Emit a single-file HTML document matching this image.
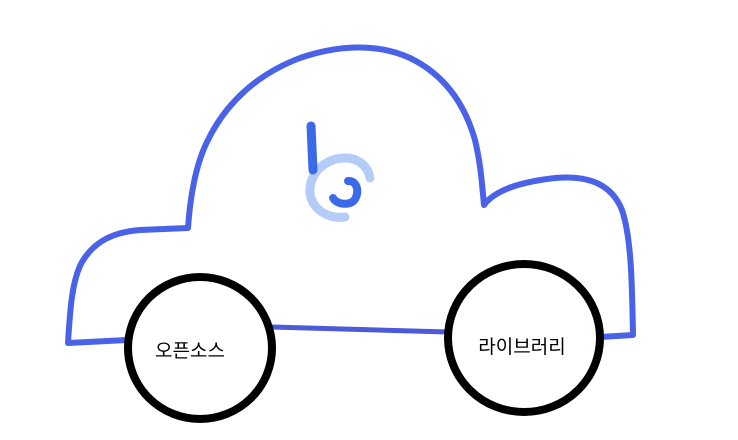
<!DOCTYPE html>
<html><head><meta charset="utf-8"><style>
html,body{margin:0;padding:0;background:#fff;width:738px;height:440px;overflow:hidden}
text{font-family:"Liberation Sans","Noto Sans CJK KR","NanumGothic",sans-serif}
</style></head><body>
<svg width="738" height="440" viewBox="0 0 738 440">
<path fill="none" stroke="#4a62e8" stroke-width="6" stroke-linecap="round" stroke-linejoin="round"
 d="M127,340 L68,343 C70,310 72,280 82,262 C95,240 115,232 140,230 L188,228 C190,200 195,165 208,140 C225,105 255,75 300,58 C335,46 375,42 410,58 C445,75 465,105 475,140 C481,165 482,185 484,205 C495,190 520,182 555,178 C590,175 612,185 622,210 C632,240 632,290 633,335 L600,337"/>
<path fill="none" stroke="#4a5ad8" stroke-width="5" d="M272,327 L448,332"/>
<ellipse cx="200" cy="348" rx="72" ry="71" fill="#fff" stroke="#000" stroke-width="8"/>
<ellipse cx="524" cy="338" rx="76" ry="74" fill="#fff" stroke="#000" stroke-width="8"/>
<text x="190" y="357" font-size="19" text-anchor="middle" fill="#000">오픈소스</text>
<text x="522" y="353" font-size="19" text-anchor="middle" fill="#000">라이브러리</text>
<g>
<path d="M345,217 C325,220 308,205 310,188 C312,168 330,158 345,158 C358,158 368,166 370,178" fill="none" stroke="#b3cdf8" stroke-width="9" stroke-linecap="round"/>
<path d="M311,126 L313,170" fill="none" stroke="#3a6ae8" stroke-width="9" stroke-linecap="round"/>
<path d="M348,181 C360,180 360,200 350,203 C343,205 336,203 333,198" fill="none" stroke="#3a6ae8" stroke-width="8" stroke-linecap="round"/>
</g>
</svg>
</body></html>
